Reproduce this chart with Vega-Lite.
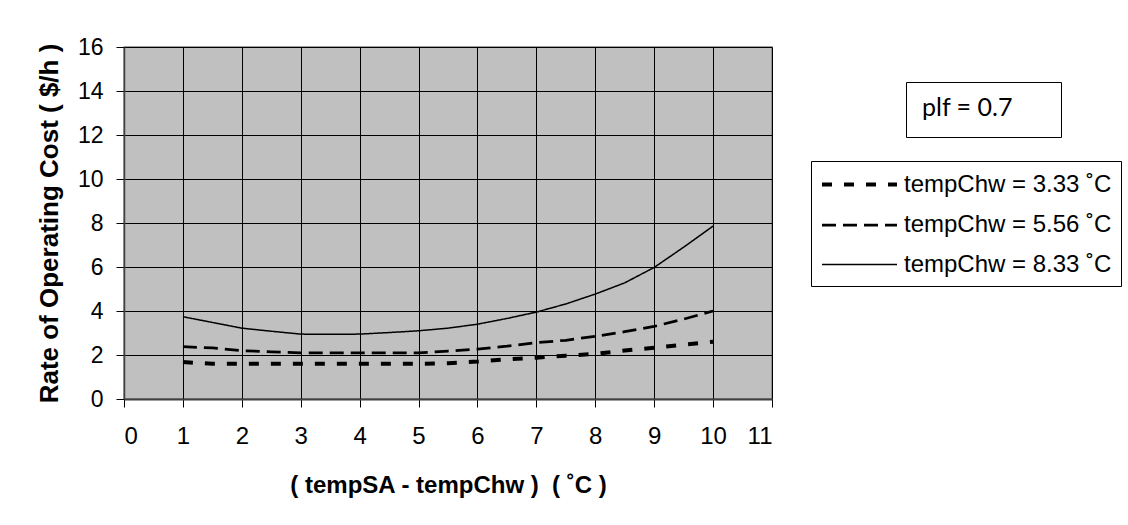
{
  "$schema": "https://vega.github.io/schema/vega-lite/v6.json",
  "width": 648,
  "height": 352,
  "autosize": {"type": "none"},
  "padding": {"left": 124, "top": 47, "right": 356, "bottom": 126},
  "background": "white",
  "view": {"fill": "#C0C0C0", "stroke": "#808080", "strokeWidth": 1.5},
  "config": {
    "font": "Liberation Sans",
    "view": {"fill": "#C0C0C0", "stroke": "#808080", "strokeWidth": 1.5},
    "axis": {
      "gridColor": "#000000",
      "gridWidth": 1,
      "gridOpacity": 1,
      "tickColor": "#000000",
      "tickSize": 8,
      "domainColor": "#404040",
      "domainWidth": 2,
      "labelColor": "#000000",
      "titleColor": "#000000",
      "labelFont": "Liberation Sans",
      "titleFont": "Liberation Sans",
      "titleFontWeight": "bold"
    }
  },
  "layer": [
    {
      "data": {
        "values": [
          {"x": 1, "cost": 1.68, "series": "tempChw = 3.33 ˚C"},
          {"x": 1.5, "cost": 1.6, "series": "tempChw = 3.33 ˚C"},
          {"x": 2, "cost": 1.6, "series": "tempChw = 3.33 ˚C"},
          {"x": 2.5, "cost": 1.6, "series": "tempChw = 3.33 ˚C"},
          {"x": 3, "cost": 1.6, "series": "tempChw = 3.33 ˚C"},
          {"x": 3.5, "cost": 1.6, "series": "tempChw = 3.33 ˚C"},
          {"x": 4, "cost": 1.6, "series": "tempChw = 3.33 ˚C"},
          {"x": 4.5, "cost": 1.6, "series": "tempChw = 3.33 ˚C"},
          {"x": 5, "cost": 1.6, "series": "tempChw = 3.33 ˚C"},
          {"x": 5.5, "cost": 1.63, "series": "tempChw = 3.33 ˚C"},
          {"x": 6, "cost": 1.7, "series": "tempChw = 3.33 ˚C"},
          {"x": 6.5, "cost": 1.8, "series": "tempChw = 3.33 ˚C"},
          {"x": 7, "cost": 1.88, "series": "tempChw = 3.33 ˚C"},
          {"x": 7.5, "cost": 1.97, "series": "tempChw = 3.33 ˚C"},
          {"x": 8, "cost": 2.05, "series": "tempChw = 3.33 ˚C"},
          {"x": 8.5, "cost": 2.2, "series": "tempChw = 3.33 ˚C"},
          {"x": 9, "cost": 2.33, "series": "tempChw = 3.33 ˚C"},
          {"x": 9.5, "cost": 2.47, "series": "tempChw = 3.33 ˚C"},
          {"x": 10, "cost": 2.6, "series": "tempChw = 3.33 ˚C"},
          {"x": 1, "cost": 2.38, "series": "tempChw = 5.56 ˚C"},
          {"x": 1.5, "cost": 2.32, "series": "tempChw = 5.56 ˚C"},
          {"x": 2, "cost": 2.2, "series": "tempChw = 5.56 ˚C"},
          {"x": 2.5, "cost": 2.14, "series": "tempChw = 5.56 ˚C"},
          {"x": 3, "cost": 2.1, "series": "tempChw = 5.56 ˚C"},
          {"x": 3.5, "cost": 2.1, "series": "tempChw = 5.56 ˚C"},
          {"x": 4, "cost": 2.1, "series": "tempChw = 5.56 ˚C"},
          {"x": 4.5, "cost": 2.1, "series": "tempChw = 5.56 ˚C"},
          {"x": 5, "cost": 2.1, "series": "tempChw = 5.56 ˚C"},
          {"x": 5.5, "cost": 2.18, "series": "tempChw = 5.56 ˚C"},
          {"x": 6, "cost": 2.27, "series": "tempChw = 5.56 ˚C"},
          {"x": 6.5, "cost": 2.4, "series": "tempChw = 5.56 ˚C"},
          {"x": 7, "cost": 2.56, "series": "tempChw = 5.56 ˚C"},
          {"x": 7.5, "cost": 2.67, "series": "tempChw = 5.56 ˚C"},
          {"x": 8, "cost": 2.85, "series": "tempChw = 5.56 ˚C"},
          {"x": 8.5, "cost": 3.06, "series": "tempChw = 5.56 ˚C"},
          {"x": 9, "cost": 3.3, "series": "tempChw = 5.56 ˚C"},
          {"x": 9.5, "cost": 3.63, "series": "tempChw = 5.56 ˚C"},
          {"x": 10, "cost": 4.0, "series": "tempChw = 5.56 ˚C"},
          {"x": 1, "cost": 3.74, "series": "tempChw = 8.33 ˚C"},
          {"x": 1.5, "cost": 3.48, "series": "tempChw = 8.33 ˚C"},
          {"x": 2, "cost": 3.22, "series": "tempChw = 8.33 ˚C"},
          {"x": 2.5, "cost": 3.08, "series": "tempChw = 8.33 ˚C"},
          {"x": 3, "cost": 2.95, "series": "tempChw = 8.33 ˚C"},
          {"x": 3.5, "cost": 2.94, "series": "tempChw = 8.33 ˚C"},
          {"x": 4, "cost": 2.95, "series": "tempChw = 8.33 ˚C"},
          {"x": 4.5, "cost": 3.02, "series": "tempChw = 8.33 ˚C"},
          {"x": 5, "cost": 3.1, "series": "tempChw = 8.33 ˚C"},
          {"x": 5.5, "cost": 3.22, "series": "tempChw = 8.33 ˚C"},
          {"x": 6, "cost": 3.4, "series": "tempChw = 8.33 ˚C"},
          {"x": 6.5, "cost": 3.66, "series": "tempChw = 8.33 ˚C"},
          {"x": 7, "cost": 3.95, "series": "tempChw = 8.33 ˚C"},
          {"x": 7.5, "cost": 4.32, "series": "tempChw = 8.33 ˚C"},
          {"x": 8, "cost": 4.77, "series": "tempChw = 8.33 ˚C"},
          {"x": 8.5, "cost": 5.28, "series": "tempChw = 8.33 ˚C"},
          {"x": 9, "cost": 5.98, "series": "tempChw = 8.33 ˚C"},
          {"x": 9.5, "cost": 6.9, "series": "tempChw = 8.33 ˚C"},
          {"x": 10, "cost": 7.86, "series": "tempChw = 8.33 ˚C"}
        ]
      },
      "mark": {"type": "line", "color": "#000000", "strokeCap": "butt"},
      "encoding": {
        "x": {
          "field": "x",
          "type": "quantitative",
          "scale": {"domain": [0, 11], "nice": false},
          "axis": {
            "values": [0, 1, 2, 3, 4, 5, 6, 7, 8, 9, 10, 11],
            "format": "d",
            "labelFontSize": 24,
            "labelPadding": 17,
            "title": "( tempSA - tempChw )\u00a0 ( ˚C )",
            "titleFontSize": 24,
            "titlePadding": 25
          }
        },
        "y": {
          "field": "cost",
          "type": "quantitative",
          "scale": {"domain": [0, 16], "nice": false},
          "axis": {
            "values": [0, 2, 4, 6, 8, 10, 12, 14, 16],
            "labelFontSize": 23,
            "labelPadding": 13,
            "domainWidth": 1.5,
            "title": "Rate of Operating Cost ( $/h )",
            "titleFontSize": 26,
            "titlePadding": 15
          }
        },
        "strokeDash": {
          "field": "series",
          "type": "nominal",
          "scale": {
            "domain": ["tempChw = 3.33 ˚C", "tempChw = 5.56 ˚C", "tempChw = 8.33 ˚C"],
            "range": [[10, 12], [14, 7], [1, 0]]
          },
          "legend": {
            "title": null,
            "orient": "none",
            "legendX": 687,
            "legendY": 114,
            "padding": 9,
            "strokeColor": "#000000",
            "fillColor": "#FFFFFF",
            "symbolType": "M-1,0H5",
            "symbolSize": 625,
            "symbolStrokeColor": "#000000",
            "symbolFillColor": "transparent",
            "labelOffset": 55,
            "labelFontSize": 24,
            "labelFont": "Liberation Sans",
            "labelColor": "#000000",
            "labelLimit": 400,
            "rowPadding": 14
          }
        },
        "strokeWidth": {
          "field": "series",
          "type": "nominal",
          "scale": {
            "domain": ["tempChw = 3.33 ˚C", "tempChw = 5.56 ˚C", "tempChw = 8.33 ˚C"],
            "range": [4, 1.5, 1.5]
          },
          "legend": {
            "title": null,
            "orient": "none",
            "legendX": 687,
            "legendY": 114,
            "padding": 9,
            "strokeColor": "#000000",
            "fillColor": "#FFFFFF",
            "symbolType": "M-1,0H5",
            "symbolSize": 625,
            "symbolStrokeColor": "#000000",
            "symbolFillColor": "transparent",
            "labelOffset": 55,
            "labelFontSize": 24,
            "labelFont": "Liberation Sans",
            "labelColor": "#000000",
            "labelLimit": 400,
            "rowPadding": 14
          }
        }
      }
    },
    {
      "data": {"values": [{"note": "plf = 0.7"}]},
      "mark": {"type": "point", "opacity": 0},
      "encoding": {
        "shape": {
          "field": "note",
          "type": "nominal",
          "legend": {
            "title": "plf = 0.7",
            "titleOrient": "left",
            "titleFont": "Lato",
            "titleFontSize": 25,
            "titleFontWeight": "normal",
            "titleColor": "#000000",
            "titlePadding": 12,
            "titleLimit": 300,
            "orient": "none",
            "legendX": 782,
            "legendY": 35,
            "padding": 16,
            "strokeColor": "#000000",
            "fillColor": "#FFFFFF",
            "symbolOpacity": 0,
            "symbolSize": 400,
            "symbolStrokeWidth": 0,
            "labelExpr": "''",
            "labelOffset": 0
          }
        }
      }
    }
  ]
}
